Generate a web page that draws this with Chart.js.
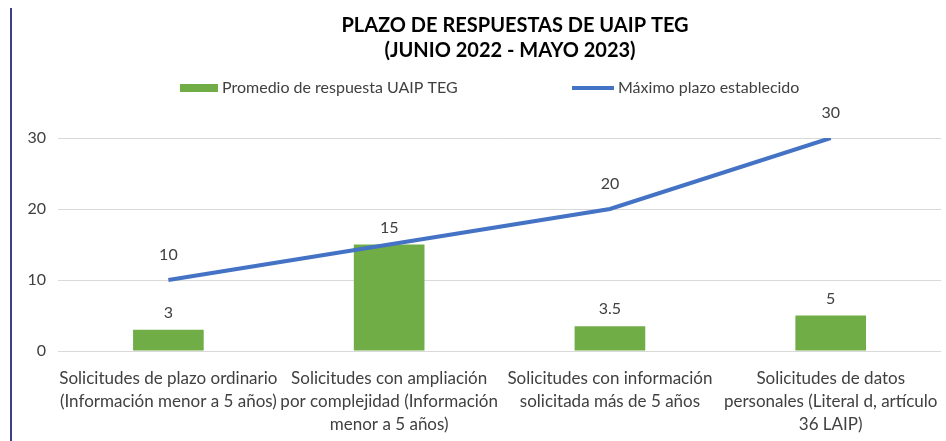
<!DOCTYPE html>
<html>
<head>
<meta charset="utf-8">
<script src="https://cdn.jsdelivr.net/npm/chart.js@4"></script>
<style>
	html, body { margin: 0; padding: 0; background: #fff; }
	#wrap { position: relative; width: 946px; height: 441px; }
	#edge { position: absolute; left: 10px; top: 8px; width: 2px; height: 433px; background: #3b3f8c; }
</style>
</head>
<body>
<div id="wrap">
	<canvas id="graph" width="946" height="441"></canvas>
	<div id="edge"></div>
</div>
<script>
const categories = [
	["Solicitudes de plazo ordinario", "(Información menor a 5 años)"],
	["Solicitudes con ampliación", "por complejidad (Información", "menor a 5 años)"],
	["Solicitudes con información", "solicitada más de 5 años"],
	["Solicitudes de datos", "personales (Literal d, artículo", "36 LAIP)"],
];
const promedio = [3, 15, 3.5, 5];
const maximo = [10, 15, 20, 30];
const yTicks = [0, 10, 20, 30];
const titleLines = ["PLAZO DE RESPUESTAS DE UAIP TEG", "(JUNIO 2022 - MAYO 2023)"];

const FONT = "Lato, 'Open Sans', sans-serif";
const TEXT = "#404040";

// data labels above bars and line points
const valueLabels = {
	id: "valueLabels",
	afterDatasetsDraw(chart) {
		const ctx = chart.ctx;
		ctx.save();
		ctx.font = "16px " + FONT;
		ctx.fillStyle = TEXT;
		ctx.textAlign = "center";
		ctx.textBaseline = "middle";
		chart.data.datasets.forEach((ds, i) => {
			const meta = chart.getDatasetMeta(i);
			const isLine = ds.type === "line";
			const off = isLine ? 25 : 17;
			meta.data.forEach((el, j) => {
				// the line label is hidden where it meets the bar label
				if (isLine && ds.data[j] === promedio[j]) return;
				ctx.fillText(String(ds.data[j]), el.x, el.y - off);
			});
		});
		ctx.restore();
	},
};

// title + legend, placed like the original (title sits right of centre)
const header = {
	id: "header",
	afterDraw(chart) {
		const ctx = chart.ctx;
		const bar = chart.data.datasets.find(d => d.type === "bar");
		const line = chart.data.datasets.find(d => d.type === "line");
		ctx.save();
		ctx.textBaseline = "middle";
		ctx.textAlign = "center";
		ctx.fillStyle = "#000";
		ctx.font = "bold 20px " + FONT;
		ctx.fillText(titleLines[0], 515, 26);
		ctx.fillText(titleLines[1], 510, 51);

		const y = 88;
		ctx.textAlign = "left";
		ctx.font = "16px " + FONT;
		ctx.fillStyle = bar.backgroundColor;
		ctx.fillRect(180, y - 4, 38, 8);
		ctx.fillStyle = TEXT;
		ctx.fillText(bar.label, 222, y);
		ctx.strokeStyle = line.borderColor;
		ctx.lineWidth = 4;
		ctx.beginPath();
		ctx.moveTo(572, y);
		ctx.lineTo(614, y);
		ctx.stroke();
		ctx.fillText(line.label, 618, y);
		ctx.restore();
	},
};

const ctx = document.getElementById("graph").getContext("2d");
const chart = new Chart(ctx, {
	data: {
		labels: categories,
		datasets: [
			{
				type: "line",
				label: "Máximo plazo establecido",
				data: maximo,
				borderColor: "#4472C4",
				backgroundColor: "#4472C4",
				borderWidth: 4,
				pointRadius: 0,
				tension: 0,
				order: 0,
			},
			{
				type: "bar",
				label: "Promedio de respuesta UAIP TEG",
				data: promedio,
				backgroundColor: "#70AD47",
				categoryPercentage: 1,
				barPercentage: 0.32,
				order: 1,
			},
		],
	},
	options: {
		responsive: false,
		animation: false,
		layout: { padding: { left: 0, right: 4, top: 138, bottom: 0 } },
		plugins: {
			legend: { display: false },
			tooltip: { enabled: false },
			title: { display: false },
		},
		scales: {
			x: {
				grid: { display: false },
				border: { display: false },
				ticks: {
					color: TEXT,
					font: { family: FONT, size: 17, lineHeight: 1.35 },
					maxRotation: 0,
					autoSkip: false,
					padding: 8,
				},
				afterFit(scale) { scale.height = 90; },
			},
			y: {
				min: 0,
				max: 30,
				afterBuildTicks(scale) { scale.ticks = yTicks.map(v => ({ value: v })); },
				grid: { color: "#d9d9d9", lineWidth: 1, drawTicks: false },
				border: { display: false },
				ticks: {
					color: TEXT,
					font: { family: FONT, size: 16 },
					padding: 12,
				},
				afterFit(scale) { scale.width = 58; },
			},
		},
	},
	plugins: [valueLabels, header],
});
</script>
</body>
</html>
